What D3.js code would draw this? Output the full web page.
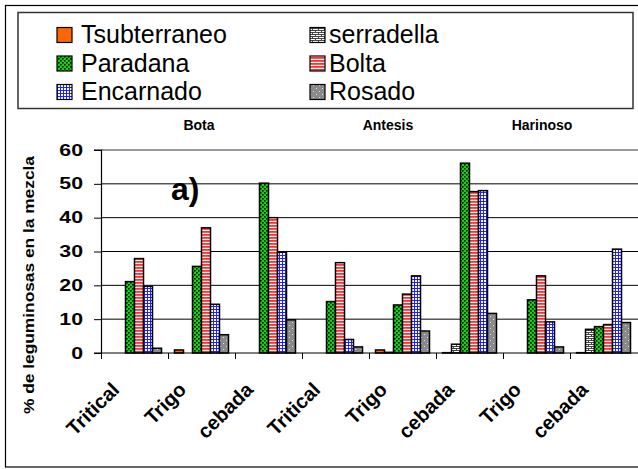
<!DOCTYPE html>
<html><head><meta charset="utf-8">
<script src="https://cdn.jsdelivr.net/npm/d3@7"></script>
<style>body{margin:0;background:#fff}svg{display:block}text{font-family:"Liberation Sans",Arial,sans-serif}</style>
</head><body><svg id="c" width="638" height="469" font-family="Liberation Sans, Arial, sans-serif"></svg>
<script>
const categories = ["Tritical","Trigo","cebada","Tritical","Trigo","cebada","Trigo","cebada"];
const stages = ["Bota","Antesis","Harinoso"];
const seriesNames = ["Tsubterraneo","serradella","Paradana","Bolta","Encarnado","Rosado"];
const Tsubterraneo = [0, 0.9, 0, 0, 0.9, 0.1, 0, 0.1];
const serradella   = [0, 0, 0, 0, 0.2, 2.6, 0, 7.0];
const Paradana     = [21.1, 25.6, 50.2, 15.2, 14.2, 56.1, 15.7, 7.8];
const Bolta        = [27.9, 37.0, 40.0, 26.7, 17.4, 47.7, 22.8, 8.4];
const Encarnado    = [19.7, 14.4, 29.8, 4.0, 22.8, 48.0, 9.2, 30.7];
const Rosado       = [1.4, 5.4, 9.8, 1.8, 6.5, 11.7, 1.8, 9.0];
const yTicks = [0,10,20,30,40,50,60];
const seriesValues = [Tsubterraneo, serradella, Paradana, Bolta, Encarnado, Rosado];

const FONT = "'Liberation Sans', Arial, sans-serif";
const svg = d3.select("#c");
const defs = svg.append("defs");
let p = defs.append("pattern").attr("id","p0").attr("width",4).attr("height",4).attr("patternUnits","userSpaceOnUse");
p.append("rect").attr("width",4).attr("height",4).attr("fill","#ff6600");
p = defs.append("pattern").attr("id","p1").attr("width",6).attr("height",4).attr("patternUnits","userSpaceOnUse");
p.append("rect").attr("width",6).attr("height",4).attr("fill","#fff");
p.append("path").attr("d","M0,0.5H6M0,2.5H6M0.5,0.5V2.5M3.5,2.5V4.5").attr("stroke","#333").attr("stroke-width",0.9);
p = defs.append("pattern").attr("id","p2").attr("width",4).attr("height",4).attr("patternUnits","userSpaceOnUse");
p.append("rect").attr("width",4).attr("height",4).attr("fill","#00e000");
p.append("rect").attr("x",0).attr("y",0).attr("width",1.6).attr("height",1.6).attr("fill","#000");
p.append("rect").attr("x",2).attr("y",2).attr("width",1.6).attr("height",1.6).attr("fill","#000");
p = defs.append("pattern").attr("id","p3").attr("width",4).attr("height",3).attr("patternUnits","userSpaceOnUse");
p.append("rect").attr("width",4).attr("height",3).attr("fill","#fff");
p.append("rect").attr("width",4).attr("height",1.8).attr("fill","#ff3030");
p = defs.append("pattern").attr("id","p4").attr("width",3).attr("height",3).attr("patternUnits","userSpaceOnUse");
p.append("rect").attr("width",3).attr("height",3).attr("fill","#fff");
p.append("path").attr("d","M0.5,0V3M0,0.5H3").attr("stroke","#2020ff").attr("stroke-width",1);
p = defs.append("pattern").attr("id","p5").attr("width",6).attr("height",6).attr("patternUnits","userSpaceOnUse");
p.append("rect").attr("width",6).attr("height",6).attr("fill","#8a8a8a");
p.append("rect").attr("x",1).attr("y",1).attr("width",1).attr("height",1).attr("fill","#e0e0e0");
p.append("rect").attr("x",4).attr("y",4).attr("width",1).attr("height",1).attr("fill","#e0e0e0");

svg.append("rect").attr("x",5.5).attr("y",5.5).attr("width",640).attr("height",461.5).attr("fill","none").attr("stroke","#000").attr("stroke-width",1.2);

svg.append("rect").attr("x",18).attr("y",12.5).attr("width",615).attr("height",96).attr("fill","#fff").attr("stroke","#333").attr("stroke-width",1.5);
const leg = svg.append("g");
seriesNames.forEach((n,i)=>{
  const col = i%2, row = Math.floor(i/2);
  const lx = col===0 ? 57 : 310, ly = 43 + row*28.5;
  leg.append("rect").attr("x",lx).attr("y",ly-15.5).attr("width",15).attr("height",15)
     .attr("fill",`url(#p${i})`).attr("stroke","#000").attr("stroke-width",1.2);
  leg.append("text").attr("x",lx + (col?19:24)).attr("y",ly).attr("font-family",FONT).attr("font-size",25).attr("fill","#000").text(n);
});

const x0 = 101, x1 = 637;
const x = d3.scaleBand().domain(d3.range(categories.length)).range([x0,x1]).paddingInner(0).paddingOuter(0);
const xs = d3.scaleBand().domain(d3.range(seriesNames.length)).range([6.5, x.bandwidth()-6.5]);
const y = d3.scaleLinear().domain([0,60]).range([353,150]);

svg.append("line").attr("x1",x0).attr("x2",638).attr("y1",y(60)).attr("y2",y(60)).attr("stroke","#999").attr("stroke-width",2);
svg.append("g").selectAll("line").data(yTicks.filter(t=>t>0&&t<60)).join("line")
  .attr("x1",x0).attr("x2",638).attr("y1",d=>y(d)).attr("y2",d=>y(d)).attr("stroke","#000").attr("stroke-width",1);

seriesValues.forEach((vals,si)=>{
  svg.append("g").selectAll("rect").data(vals).join("rect")
    .attr("x",(d,i)=>x(i)+xs(si)).attr("width",xs.bandwidth())
    .attr("y",d=>y(d)).attr("height",d=>y(0)-y(d))
    .attr("fill",`url(#p${si})`).attr("stroke","#000").attr("stroke-width",1.5);
});

const yAxis = svg.append("g").attr("transform",`translate(${x0},0)`)
  .call(d3.axisLeft(y).tickValues(yTicks).tickSize(7).tickPadding(11));
yAxis.select(".domain").attr("stroke","#000").attr("stroke-width",1.2).attr("d",`M-7,${y(60)}H0.5V${y(0)}H-7`);
yAxis.selectAll("text").attr("font-size",16).attr("font-weight","bold").attr("fill","#000").attr("font-family",FONT)
  .each(function(){ const L=this.getComputedTextLength(); d3.select(this).attr("textLength",L*1.33).attr("lengthAdjust","spacingAndGlyphs"); });
yAxis.selectAll("line").attr("stroke","#000");

svg.append("line").attr("x1",x0).attr("x2",638).attr("y1",y(0)).attr("y2",y(0)).attr("stroke","#000").attr("stroke-width",1.2);
svg.append("g").selectAll("line").data(d3.range(categories.length)).join("line")
  .attr("x1",d=>x(d)+0.5).attr("x2",d=>x(d)+0.5).attr("y1",y(0)).attr("y2",y(0)+6).attr("stroke","#000");

// x labels: rotated -45deg, centred on their own midpoint
const k = Math.SQRT1_2;
svg.append("g").selectAll("text").data(categories).join("text")
  .attr("text-anchor","middle").attr("dy","0.35em").attr("font-family",FONT).attr("font-size",20).attr("font-weight","bold").attr("fill","#000")
  .text(d=>d)
  .each(function(d,i){
    const L = this.getComputedTextLength();
    const cx = x(i)+x.bandwidth()/2 - 19 - L/2*k, cy = 386 + L/2*k;
    d3.select(this).attr("transform",`translate(${cx},${cy}) rotate(-45)`);
  });

const stageX = [199, 388, 542];
svg.append("g").selectAll("text").data(stages).join("text")
  .attr("x",(d,i)=>stageX[i]).attr("y",130).attr("text-anchor","middle").attr("font-family",FONT)
  .attr("font-size",14).attr("font-weight","bold").attr("fill","#000").text(d=>d);

svg.append("text").attr("x",171).attr("y",200).attr("font-family",FONT).attr("font-size",32).attr("font-weight","bold").attr("fill","#000").text("a)");

svg.append("text").attr("transform","translate(34,285) rotate(-90)").attr("text-anchor","middle").attr("font-family",FONT)
  .attr("font-size",14).attr("font-weight","bold").attr("fill","#000")
  .attr("textLength",258).attr("lengthAdjust","spacingAndGlyphs").text("% de leguminosas en la mezcla");
</script></body></html>
